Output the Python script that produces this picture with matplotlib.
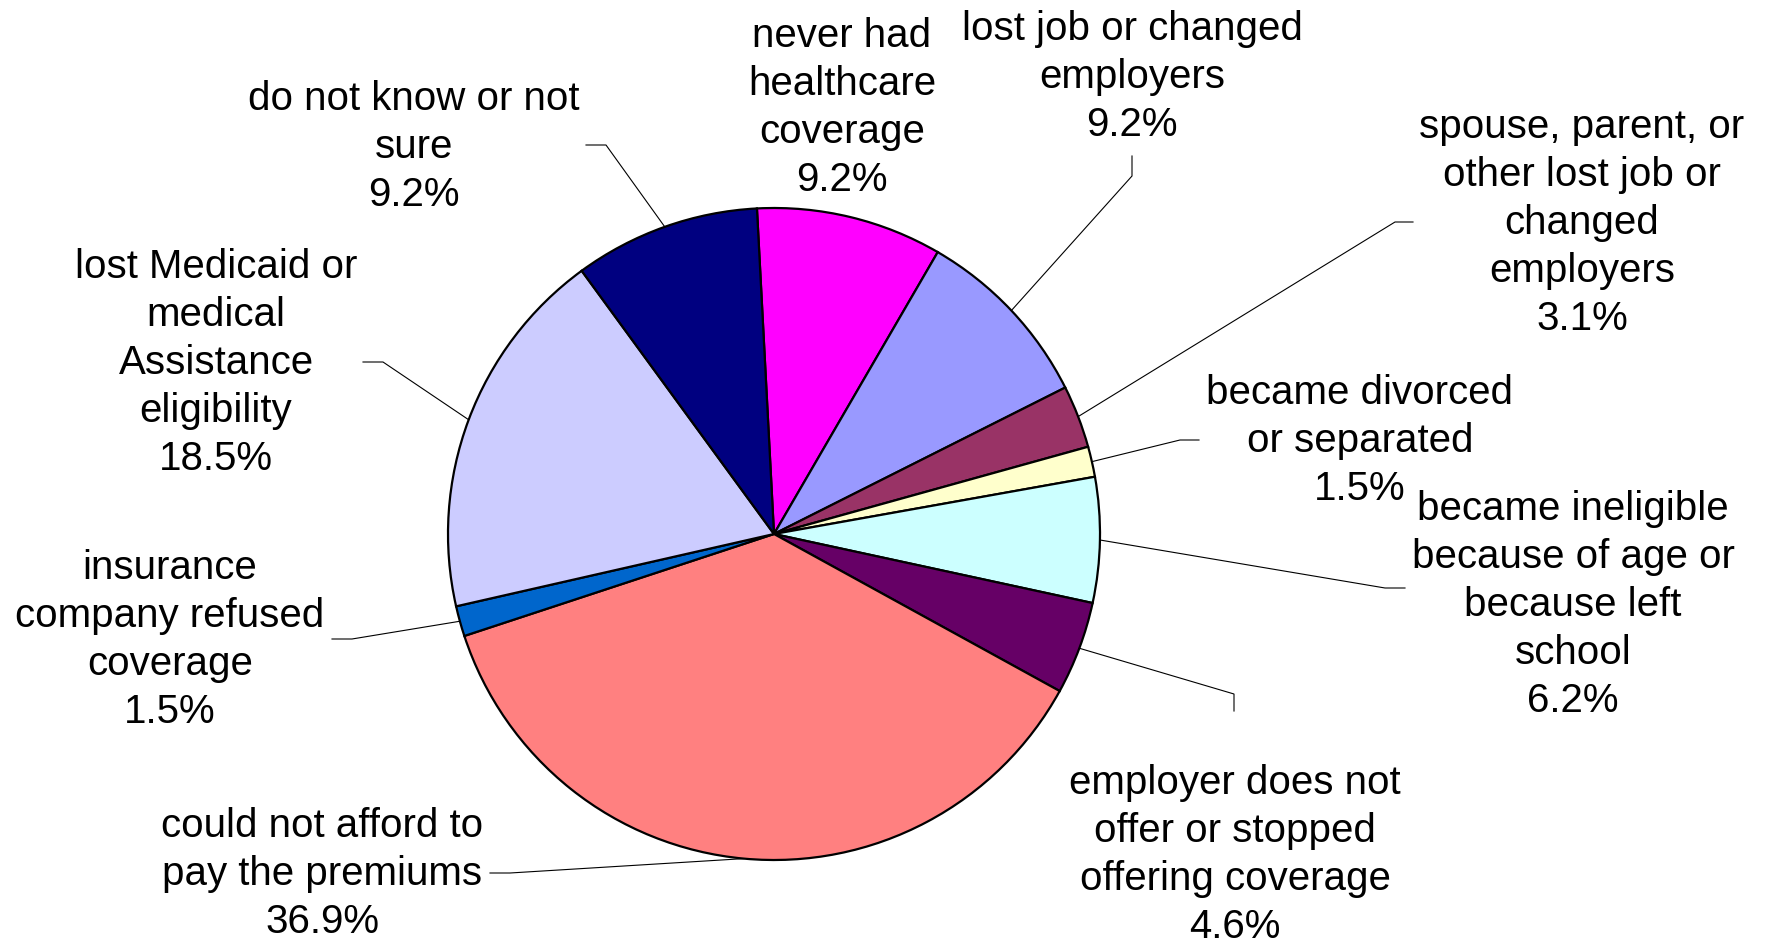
import matplotlib
matplotlib.use("Agg")
import matplotlib.pyplot as plt
import numpy as np

# ---- data ----
categories = [
    "never had\nhealthcare\ncoverage",
    "lost job or changed\nemployers",
    "spouse, parent, or\nother lost job or\nchanged\nemployers",
    "became divorced\nor separated",
    "became ineligible\nbecause of age or\nbecause left\nschool",
    "employer does not\noffer or stopped\noffering coverage",
    "could not afford to\npay the premiums",
    "insurance\ncompany refused\ncoverage",
    "lost Medicaid or\nmedical\nAssistance\neligibility",
    "do not know or not\nsure",
]
percent = [9.2, 9.2, 3.1, 1.5, 6.2, 4.6, 36.9, 1.5, 18.5, 9.2]
pct_labels = ["9.2%", "9.2%", "3.1%", "1.5%", "6.2%", "4.6%", "36.9%", "1.5%", "18.5%", "9.2%"]

colors = ["#FF00FF", "#9999FF", "#993366", "#FFFFCC", "#CCFFFF",
          "#660066", "#FF8080", "#0066CC", "#CCCCFF", "#000080"]

# ---- layout (pixel space, y measured from top) ----
W, H = 1769, 945
center_px = (774, 535)
radius_px = 326
# label block centres
label_pos = [(842, 108), (1132, 77), (1582, 223), (1360, 441), (1573, 605),
             (1235, 855), (322, 874), (170, 640), (216, 363), (414, 147)]
# leader elbows and ends (None = no leader)
elbows = [None, (1132, 177), (1395, 223), (1180, 441), (1385, 589),
          (1234, 695), (510, 874), (352, 640), (383, 363), (606, 146)]
ends = [None, (1132, 157), (1413, 223), (1199, 441), (1405, 589),
        (1234, 712), (490, 874), (332, 640), (363, 363), (586, 146)]

def Y(y):
    return H - y

plt.rcParams['font.family'] = ['Liberation Sans', 'DejaVu Sans']

fig = plt.figure(figsize=(W / 100, H / 100), dpi=100)
ax = fig.add_axes([0, 0, 1, 1])
ax.set_xlim(0, W)
ax.set_ylim(0, H)
ax.set_aspect('equal')
ax.axis('off')

cx, cy = center_px[0], Y(center_px[1])
wedges, _ = ax.pie(percent, colors=colors, startangle=93, counterclock=False,
                   center=(cx, cy), radius=radius_px, frame=True,
                   wedgeprops=dict(edgecolor='black', linewidth=1.6))
ax.set_xlim(0, W)
ax.set_ylim(0, H)
ax.axis('off')

for i, w in enumerate(wedges):
    lx, ly = label_pos[i]
    ax.text(lx, Y(ly), categories[i] + "\n" + pct_labels[i], ha='center', va='center',
            fontsize=29, linespacing=1.33, color='black')
    if elbows[i] is not None:
        ang = np.deg2rad((w.theta1 + w.theta2) / 2)
        ex = cx + radius_px * np.cos(ang)
        ey = cy + radius_px * np.sin(ang)
        bx, by = elbows[i]
        tx, ty = ends[i]
        ax.plot([ex, bx, tx], [ey, Y(by), Y(ty)], color='black', linewidth=0.8,
                solid_joinstyle='miter')

fig.savefig("out.png", dpi=100, facecolor='white')
